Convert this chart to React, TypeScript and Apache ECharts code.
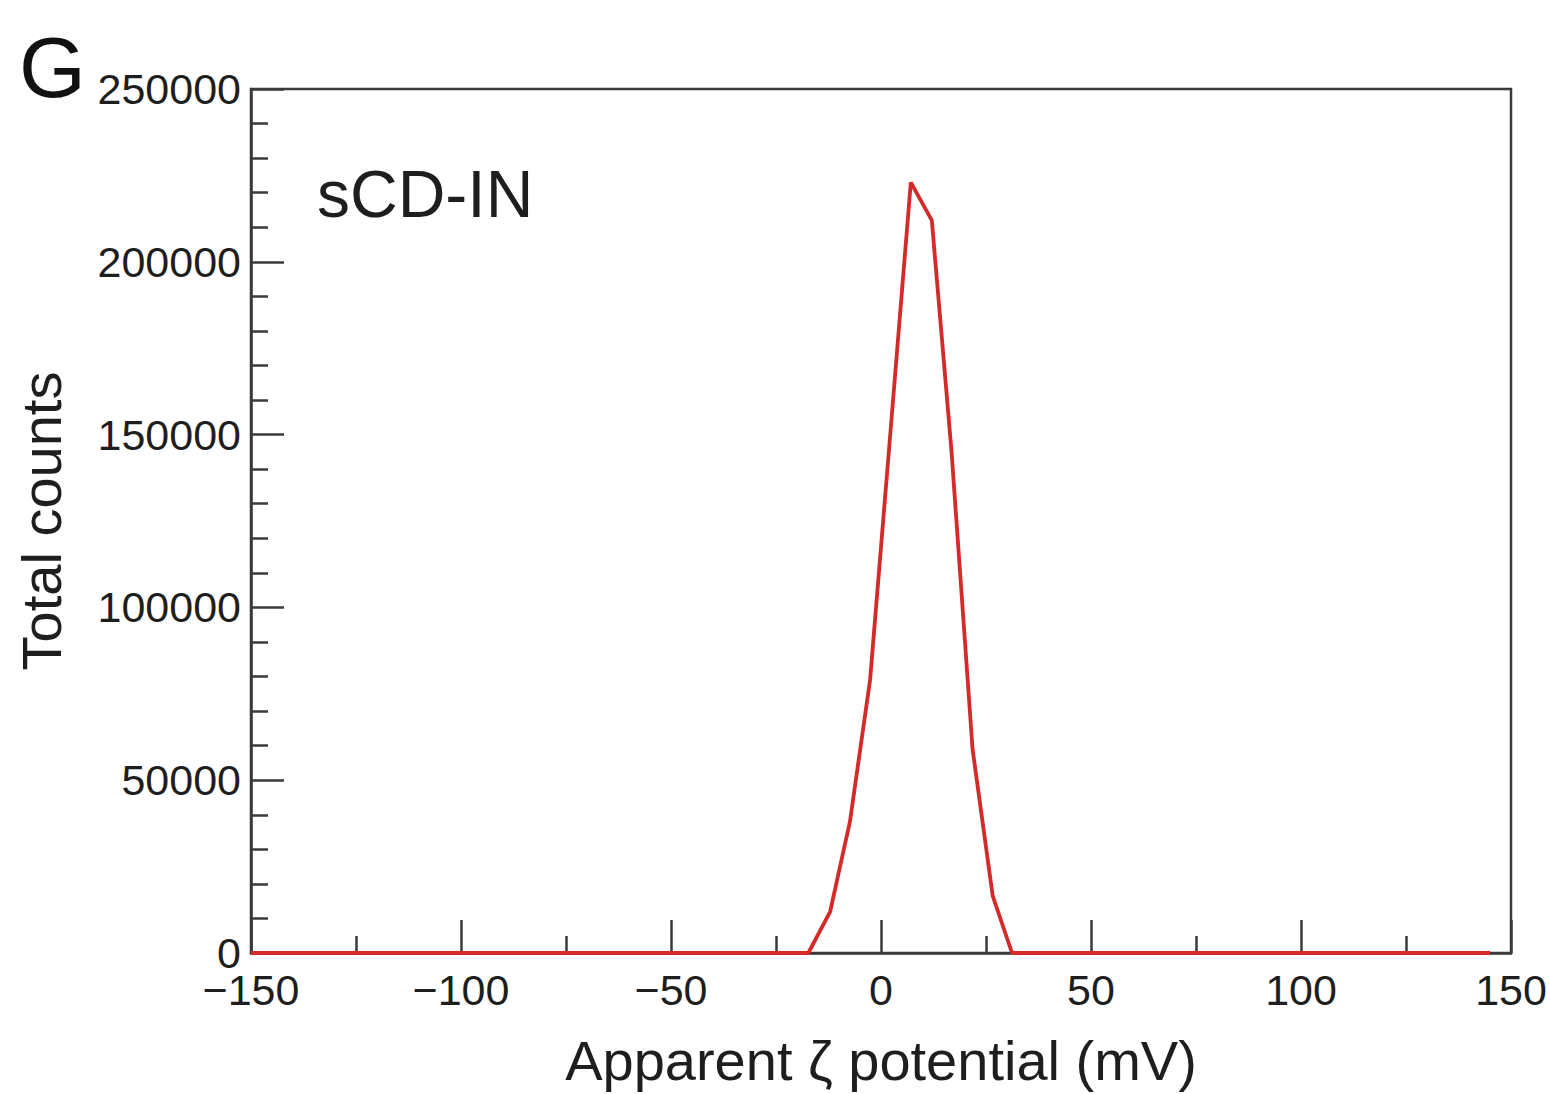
import React, { useEffect, useRef } from "react";
import * as echarts from "echarts";

const zeta = [-150, -17.3, -12.1, -7.4, -2.6, 2.2, 7.1, 12.1, 16.8, 21.8, 26.6, 31.2, 145];
const counts = [0, 0, 12000, 38000, 79000, 150000, 223000, 212000, 145000, 59000, 16500, 0, 0];
const xTicks = { min: -150, max: 150, interval: 50 };
const yTicks = { min: 0, max: 250000, interval: 50000 };
const sampleLabel = "sCD-IN";
const panelLabel = "G";
const xName = "Apparent ζ potential (mV)";
const yName = "Total counts";

const FONT = "'Liberation Sans', Arial, sans-serif";
const INK = "#1e1e1e";
const AXIS = "#3a3a3a";

export default function App() {
  const ref = useRef<HTMLDivElement>(null);
  useEffect(() => {
    const chart = echarts.init(ref.current!, null, { renderer: "svg" });
    chart.setOption({
      animation: false,
      backgroundColor: "#ffffff",
      textStyle: { fontFamily: FONT },
      grid: {
        left: 251,
        right: 39,
        top: 89,
        bottom: 141,
        show: true,
        borderColor: AXIS,
        borderWidth: 2.5,
        backgroundColor: "transparent",
      },
      xAxis: {
        type: "value",
        min: xTicks.min,
        max: xTicks.max,
        interval: xTicks.interval,
        name: xName,
        nameLocation: "middle",
        nameGap: 79,
        nameTextStyle: { fontSize: 56, color: INK, fontFamily: FONT },
        axisLine: { show: true, onZero: false, lineStyle: { color: AXIS, width: 2.5 } },
        axisTick: { show: true, inside: true, length: 33, lineStyle: { color: AXIS, width: 2.5 } },
        minorTick: { show: true, splitNumber: 2, length: 17, lineStyle: { color: AXIS, width: 2.5 } },
        splitLine: { show: false },
        axisLabel: {
          fontSize: 43,
          lineHeight: 34,
          color: INK,
          margin: 20,
          fontFamily: FONT,
          formatter: (v: number) => String(v).replace("-", "\u2212"),
        },
      },
      yAxis: {
        type: "value",
        min: yTicks.min,
        max: yTicks.max,
        interval: yTicks.interval,
        name: yName,
        nameLocation: "middle",
        nameGap: 182,
        nameTextStyle: { fontSize: 56, color: INK, fontFamily: FONT },
        axisLine: { show: true, onZero: false, lineStyle: { color: AXIS, width: 2.5 } },
        axisTick: { show: true, inside: true, length: 33, lineStyle: { color: AXIS, width: 2.5 } },
        minorTick: { show: true, splitNumber: 5, length: 17, lineStyle: { color: AXIS, width: 2.5 } },
        splitLine: { show: false },
        axisLabel: {
          fontSize: 43,
          lineHeight: 34,
          color: INK,
          margin: 10,
          fontFamily: FONT,
          formatter: (v: number) => String(v),
        },
      },
      series: [
        {
          type: "line",
          data: zeta.map((x, i) => [x, counts[i]]),
          showSymbol: false,
          symbol: "none",
          lineStyle: { color: "#d42a2a", width: 3.8 },
          z: 5,
        },
      ],
      graphic: [
        {
          type: "text",
          left: 317,
          top: 161,
          style: { text: sampleLabel, font: `66px ${FONT}`, fill: INK },
        },
        {
          type: "text",
          left: 19,
          top: 24,
          style: { text: panelLabel, font: `86px ${FONT}`, fill: "#111" },
        },
      ],
    });
    return () => chart.dispose();
  }, []);
  return (
    <div
      ref={ref}
      style={{ position: "absolute", left: 0, top: 0, width: 1550, height: 1094, background: "#fff" }}
    />
  );
}
